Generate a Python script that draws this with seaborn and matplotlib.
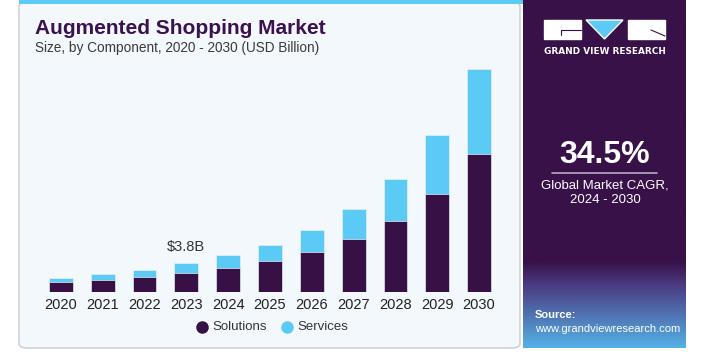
import numpy as np
import pandas as pd
import seaborn as sns
import matplotlib.pyplot as plt
from matplotlib.patches import Rectangle, FancyBboxPatch, Polygon

years = ["2020", "2021", "2022", "2023", "2024", "2025",
         "2026", "2027", "2028", "2029", "2030"]
solutions = [1.31, 1.57, 1.97, 2.49, 3.14, 4.06, 5.24, 6.94, 9.3, 12.8, 18.1]
services = [0.52, 0.79, 0.91, 1.31, 1.71, 2.10, 2.88, 3.93, 5.5, 7.8, 11.1]

PURPLE = "#371145"
BLUE = "#5bcbf5"
PANEL = "#f3f8fc"

W, H = 715, 358

df = pd.DataFrame({"year": years, "Solutions": solutions, "Services": services})
df["total"] = df["Solutions"] + df["Services"]

sns.set_theme(style="white")
plt.rcParams["font.family"] = ["Liberation Sans", "DejaVu Sans"]

fig = plt.figure(figsize=(W / 100, H / 100), dpi=100)
fig.patch.set_facecolor("white")


def fx(px):
    return px / W


def fy(py):
    return 1 - py / H


# left light panel with border and top blue strip
fig.patches.append(FancyBboxPatch((fx(19), fy(348)), fx(520 - 19), fy(2) - fy(348),
                                  boxstyle="round,pad=0,rounding_size=0.012",
                                  transform=fig.transFigure, facecolor=PANEL,
                                  edgecolor="#c8cbd0", linewidth=1.0, zorder=-2))
fig.patches.append(Rectangle((fx(19), fy(4)), fx(523 - 19), fy(0) - fy(4),
                             transform=fig.transFigure, facecolor=BLUE,
                             edgecolor="none", zorder=-1))

# right purple panel with gradient at the bottom
side = fig.add_axes([fx(523), fy(348), fx(686 - 523), fy(0) - fy(348)])
side.set_zorder(-1)
grad = np.linspace(0, 1, 200)
c_top = np.array([0x38, 0x11, 0x48]) / 255
c_mid = np.array([0x4a, 0x3a, 0x80]) / 255
c_bot = np.array([0x55, 0xb0, 0xe6]) / 255
img = np.zeros((200, 1, 3))
for i, g in enumerate(grad):
    y = g * 348
    if y < 262:
        img[i, 0] = c_top
    elif y < 285:
        t = (y - 262) / 23
        img[i, 0] = c_top * (1 - t) + c_mid * t
    else:
        t = (y - 285) / 63
        img[i, 0] = c_mid * (1 - t) + c_bot * t
side.imshow(img, aspect="auto", extent=[0, 1, 1, 0])
side.set_xlim(0, 1)
side.set_ylim(1, 0)
side.axis("off")

# logo
fig.patches.append(Rectangle((fx(544), fy(39)), fx(37), fy(20) - fy(39),
                             transform=fig.transFigure, facecolor="white", zorder=5))
fig.patches.append(Rectangle((fx(628), fy(39)), fx(37), fy(20) - fy(39),
                             transform=fig.transFigure, facecolor="white", zorder=5))
fig.patches.append(Polygon([(fx(586), fy(20)), (fx(623), fy(20)), (fx(604.5), fy(39))],
                           closed=True, transform=fig.transFigure,
                           facecolor=BLUE, zorder=5))
fig.lines.append(plt.Line2D([fx(561), fx(581)], [fy(30), fy(30)], color=PURPLE,
                            lw=0.8, transform=fig.transFigure, zorder=6))
fig.lines.append(plt.Line2D([fx(561), fx(561)], [fy(30), fy(35)], color=PURPLE,
                            lw=0.8, transform=fig.transFigure, zorder=6))
fig.lines.append(plt.Line2D([fx(651), fx(665)], [fy(30), fy(36)], color=PURPLE,
                            lw=0.8, transform=fig.transFigure, zorder=6))
fig.text(fx(605), fy(51), "GRAND VIEW RESEARCH", color="white",
         fontsize=6.4, fontweight="bold", family="DejaVu Sans",
         ha="center", va="center")

fig.text(fx(605), fy(155), "34.5%", color="white", fontsize=23, fontweight="bold",
         ha="center", va="center")
fig.lines.append(plt.Line2D([fx(552), fx(657)], [fy(173), fy(173)], color="#b9a9c4",
                            lw=1.2, transform=fig.transFigure))
fig.text(fx(605), fy(185), "Global Market CAGR,", color="white", fontsize=9.5,
         ha="center", va="center")
fig.text(fx(605), fy(200), "2024 - 2030", color="white", fontsize=9.5,
         ha="center", va="center")
fig.text(fx(535), fy(315), "Source:", color="white", fontsize=8,
         fontweight="bold", ha="left", va="center")
fig.text(fx(535), fy(329), "www.grandviewresearch.com", color="white", fontsize=8,
         ha="left", va="center")

# titles
fig.text(fx(35), fy(28), "Augmented Shopping Market", color="#3b1150",
         fontsize=15, fontweight="bold", ha="left", va="center")
fig.text(fx(35), fy(48), "Size, by Component, 2020 - 2030 (USD Billion)",
         color="#3a3a3a", fontsize=9.8, ha="left", va="center")

# bar chart
ax = fig.add_axes([fx(40), fy(292), fx(500 - 40), fy(63) - fy(292)])
ax.set_facecolor("none")
sns.barplot(data=df, x="year", y="total", color=BLUE, width=0.57,
            edgecolor="#e6eef5", linewidth=0.5, saturation=1, ax=ax)
sns.barplot(data=df, x="year", y="Solutions", color=PURPLE, width=0.57,
            edgecolor="#e6eef5", linewidth=0.5, saturation=1, ax=ax)
ax.set_xlim(-0.5, len(years) - 0.5)
ax.set_ylim(0, 30)
ax.set_xlabel("")
ax.set_ylabel("")
ax.set_yticks([])
ax.tick_params(axis="x", length=0, pad=4, labelsize=10.5, labelcolor="#222222")
sns.despine(ax=ax, left=True, bottom=True)

i23 = years.index("2023")
ax.text(i23, df["total"][i23] + 1.2, "$3.8B", ha="center", va="bottom",
        fontsize=10.5, color="#333333")

# legend
fig.lines.append(plt.Line2D([fx(202)], [fy(327)], marker="o", markersize=8,
                            color=PURPLE, linestyle="none",
                            transform=fig.transFigure))
fig.text(fx(212), fy(327), "Solutions", fontsize=9.5, color="#333333",
         ha="left", va="center")
fig.lines.append(plt.Line2D([fx(287)], [fy(327)], marker="o", markersize=8,
                            color=BLUE, linestyle="none",
                            transform=fig.transFigure))
fig.text(fx(297), fy(327), "Services", fontsize=9.5, color="#333333",
         ha="left", va="center")

fig.savefig("out.png", dpi=100, facecolor="white")
